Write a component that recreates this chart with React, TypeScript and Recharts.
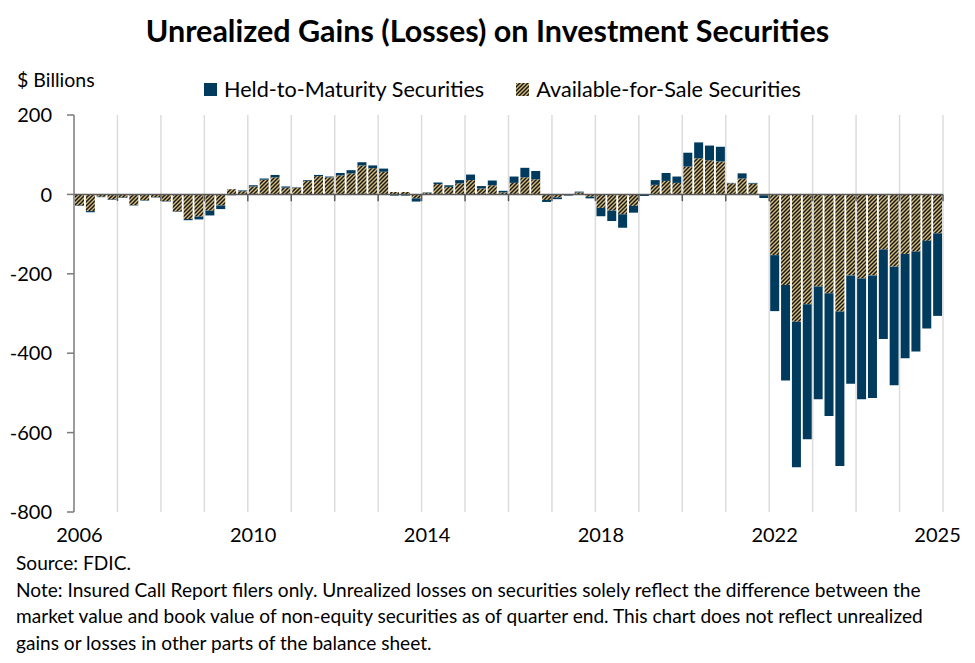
import React from 'react';
import { BarChart, Bar, XAxis, YAxis, ReferenceLine } from 'recharts';

const quarters = [
  '2006Q1','2006Q2','2006Q3','2006Q4','2007Q1','2007Q2','2007Q3','2007Q4',
  '2008Q1','2008Q2','2008Q3','2008Q4','2009Q1','2009Q2','2009Q3','2009Q4',
  '2010Q1','2010Q2','2010Q3','2010Q4','2011Q1','2011Q2','2011Q3','2011Q4',
  '2012Q1','2012Q2','2012Q3','2012Q4','2013Q1','2013Q2','2013Q3','2013Q4',
  '2014Q1','2014Q2','2014Q3','2014Q4','2015Q1','2015Q2','2015Q3','2015Q4',
  '2016Q1','2016Q2','2016Q3','2016Q4','2017Q1','2017Q2','2017Q3','2017Q4',
  '2018Q1','2018Q2','2018Q3','2018Q4','2019Q1','2019Q2','2019Q3','2019Q4',
  '2020Q1','2020Q2','2020Q3','2020Q4','2021Q1','2021Q2','2021Q3','2021Q4',
  '2022Q1','2022Q2','2022Q3','2022Q4','2023Q1','2023Q2','2023Q3','2023Q4',
  '2024Q1','2024Q2','2024Q3','2024Q4','2025Q1','2025Q2','2025Q3','2025Q4',
];

const availableForSale = [
  -28, -42, -6, -13, -8, -27, -15, -7, -17, -43, -62, -56, -41, -28, 13, 8,
  20, 37, 43, 17, 17, 34, 46, 43, 48, 53, 73, 66, 57, 6, 6, -10,
  4, 26, 19, 28, 36, 15, 23, 5, 29, 43, 38, -14, -8, -1, 5, -6,
  -34, -41, -50, -29, -1, 24, 34, 29, 70, 91, 86, 83, 28, 40, 27, -2,
  -153, -228, -321, -277, -232, -249, -295, -204, -212, -204, -139, -182, -150, -144, -117, -98,
];

const heldToMaturity = [
  -1, -3, -1, -1, -1, -1, -1, -1, -1, -1, -3, -7, -12, -9, -2, 2,
  3, 3, 6, 3, 1, 2, 3, 2, 6, 8, 8, 7, 8, -3, -3, -8,
  1, 4, 4, 8, 14, 6, 12, 4, 16, 24, 21, -5, -4, -2, 2, -4,
  -21, -26, -34, -17, -3, 12, 20, 16, 35, 40, 37, 37, 1, 13, 2, -7,
  -141, -241, -366, -340, -284, -309, -389, -273, -304, -309, -225, -299, -263, -252, -221, -208,
];

const yTicks = [200, 0, -200, -400, -600, -800];
const xTickQuarters = ['2006Q1', '2010Q1', '2014Q1', '2018Q1', '2022Q1', '2025Q4'];
const xTickLabels = ['2006', '2010', '2014', '2018', '2022', '2025'];
const yearStarts = ['2007Q1','2008Q1','2009Q1','2010Q1','2011Q1','2012Q1','2013Q1','2014Q1','2015Q1','2016Q1','2017Q1','2018Q1','2019Q1','2020Q1','2021Q1','2022Q1','2023Q1','2024Q1','2025Q1'];

const data = quarters.map((q, i) => ({
  q,
  x: i + 0.5,
  afs: availableForSale[i],
  htm: heldToMaturity[i],
}));

const xTicks = xTickQuarters.map((q) => quarters.indexOf(q) + 0.5);
const xTickMap: Record<string, string> = {};
xTicks.forEach((t, i) => { xTickMap[String(t)] = xTickLabels[i]; });
const boundaries = [...yearStarts.map((q) => quarters.indexOf(q)), quarters.length];

const FONT = 'Lato, "Noto Sans", sans-serif';
const NAVY = '#003a5d';
const GOLD = '#d2bd7c';
const DARK = '#1a1816';
const TEXT = '#000000';

function HatchDefs({ id }: { id: string }) {
  return (
    <pattern id={id} patternUnits="userSpaceOnUse" width="4" height="4">
      <rect width="4" height="4" fill={GOLD} />
      <path d="M-1,1 l2,-2 M0,4 l4,-4 M3,5 l2,-2" stroke={DARK} strokeWidth="1.5" />
    </pattern>
  );
}

export default function App() {
  return (
    <div style={{ position: 'absolute', left: 0, top: 0, width: 975, height: 663, background: '#fff', fontFamily: FONT, color: TEXT }}>
      <div style={{ position: 'absolute', left: 0, width: 975, top: 10, textAlign: 'center', fontWeight: 700, fontSize: 30.5, lineHeight: '40px', whiteSpace: 'nowrap' }}>
        Unrealized Gains (Losses) on Investment Securities
      </div>
      <div style={{ position: 'absolute', left: 17, top: 67, fontSize: 19.5, lineHeight: '26px', whiteSpace: 'nowrap' }}>$ Billions</div>
      <div style={{ position: 'absolute', left: 204, top: 75, display: 'flex', alignItems: 'center', fontSize: 21.6, lineHeight: '28px', whiteSpace: 'nowrap' }}>
        <svg width="13" height="13" style={{ marginRight: 7 }}>
          <rect width="13" height="13" fill={NAVY} />
        </svg>
        <span>Held-to-Maturity Securities</span>
        <svg width="13" height="13" style={{ marginLeft: 32, marginRight: 7 }}>
          <defs><HatchDefs id="hatchLegend" /></defs>
          <rect width="13" height="13" fill="url(#hatchLegend)" />
        </svg>
        <span>Available-for-Sale Securities</span>
      </div>

      <div style={{ position: 'absolute', left: 0, top: 0 }}>
        <BarChart
          width={975}
          height={560}
          data={data}
          stackOffset="sign"
          margin={{ top: 115, right: 32, bottom: 0, left: 0 }}
        >
          <defs>
            <HatchDefs id="hatchBar" />
          </defs>
          {boundaries.map((b) => (
            <ReferenceLine key={'g' + b} x={b} stroke="#dcdcdc" strokeWidth={1.5} />
          ))}
          <XAxis
            type="number"
            dataKey="x"
            domain={[0, quarters.length]}
            ticks={xTicks}
            tickFormatter={(v: number) => xTickMap[String(v)] ?? ''}
            axisLine={false}
            tickLine={false}
            tickSize={0}
            tickMargin={16}
            height={48}
            interval={0}
            tick={{ fill: TEXT, fontSize: 20, fontFamily: FONT }}
          />
          <YAxis
            type="number"
            domain={[-800, 200]}
            ticks={yTicks}
            interval={0}
            width={74}
            tickSize={7}
            tickMargin={15}
            axisLine={{ stroke: '#7a7a7a', strokeWidth: 1.5 }}
            tickLine={{ stroke: '#7a7a7a', strokeWidth: 1.5 }}
            tick={{ fill: TEXT, fontSize: 20, fontFamily: FONT }}
          />
          <Bar dataKey="afs" stackId="s" fill="url(#hatchBar)" barSize={9} isAnimationActive={false} />
          <Bar dataKey="htm" stackId="s" fill={NAVY} barSize={9} isAnimationActive={false} />
          <ReferenceLine y={0} stroke="#5a5a5a" strokeWidth={1.5} />
          {boundaries.map((b) => (
            <ReferenceLine
              key={'t' + b}
              segment={[{ x: b, y: 0 }, { x: b, y: -17 }]}
              stroke="#5a5a5a"
              strokeWidth={1.5}
            />
          ))}
        </BarChart>
      </div>

      <div style={{ position: 'absolute', left: 16, top: 550, fontSize: 19.1, lineHeight: '26.5px', whiteSpace: 'nowrap' }}>
        <div>Source: FDIC.</div>
        <div>Note: Insured Call Report filers only. Unrealized losses on securities solely reflect the difference between the</div>
        <div>market value and book value of non-equity securities as of quarter end. This chart does not reflect unrealized</div>
        <div>gains or losses in other parts of the balance sheet.</div>
      </div>
    </div>
  );
}
